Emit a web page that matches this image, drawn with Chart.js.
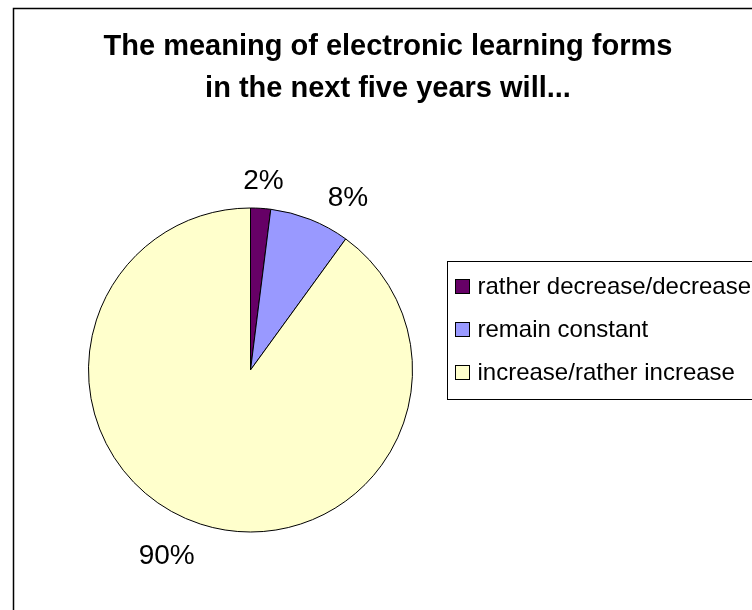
<!DOCTYPE html>
<html>
<head>
<meta charset="utf-8">
<script src="https://cdn.jsdelivr.net/npm/chart.js@4.4.1/dist/chart.umd.min.js"></script>
<style>
    html, body { margin: 0; padding: 0; background: #fff; }
    #wrap { position: relative; width: 752px; height: 610px; }
</style>
</head>
<body>
<div id="wrap"><canvas id="pie" width="752" height="610"></canvas></div>
<script>
// answers and their shares (%)
const categories = ['rather decrease/decrease', 'remain constant', 'increase/rather increase'];
const shares = [2, 8, 90];
const sliceColors = ['#660066', '#9999FF', '#FFFFCC'];
const titleLines = ['The meaning of electronic learning forms', 'in the next five years will...'];

// where each percent label sits: extra angle (deg) from the slice middle and distance from centre
const labelPlacement = [
    { shift: 0.3, dist: 191 },
    { shift: 7.7, dist: 199 },
    { shift: 6.5, dist: 202 }
];

const FONT = '"Liberation Sans", Arial, sans-serif';

// outer frame (top and left edges only, the rest runs off the canvas)
const framePlugin = {
    id: 'frame',
    beforeDraw(chart) {
        const ctx = chart.ctx;
        ctx.save();
        ctx.fillStyle = '#fff';
        ctx.fillRect(0, 0, chart.width, chart.height);
        ctx.strokeStyle = '#000';
        ctx.lineWidth = 1.5;
        ctx.beginPath();
        ctx.moveTo(13.5, chart.height);
        ctx.lineTo(13.5, 8.5);
        ctx.lineTo(chart.width, 8.5);
        ctx.stroke();
        ctx.restore();
    }
};

// title centred over the whole chart frame, which is wider than the canvas
const titlePlugin = {
    id: 'twoLineTitle',
    afterDraw(chart) {
        const ctx = chart.ctx;
        ctx.save();
        ctx.fillStyle = '#000';
        ctx.font = 'bold 29px ' + FONT;
        ctx.textAlign = 'center';
        ctx.textBaseline = 'alphabetic';
        titleLines.forEach((line, i) => ctx.fillText(line, 388, 55 + i * 42));
        ctx.restore();
    }
};

const percentPlugin = {
    id: 'percentLabels',
    afterDatasetsDraw(chart) {
        const ctx = chart.ctx;
        const meta = chart.getDatasetMeta(0);
        const total = shares.reduce((a, b) => a + b, 0);
        ctx.save();
        ctx.fillStyle = '#000';
        ctx.font = '28px ' + FONT;
        ctx.textAlign = 'center';
        ctx.textBaseline = 'middle';
        meta.data.forEach((arc, i) => {
            const p = arc.getProps(['x', 'y', 'startAngle', 'endAngle'], true);
            const a = (p.startAngle + p.endAngle) / 2 + labelPlacement[i].shift * Math.PI / 180;
            const d = labelPlacement[i].dist;
            const pct = Math.round(shares[i] / total * 100) + '%';
            ctx.fillText(pct, p.x + Math.cos(a) * d, p.y + Math.sin(a) * d + 2);
        });
        ctx.restore();
    }
};

// boxed legend at the right, clipped by the canvas edge
const legendPlugin = {
    id: 'boxLegend',
    afterDraw(chart) {
        const ctx = chart.ctx;
        const left = 447.5, top = 261.5, rowH = 43;
        ctx.save();
        ctx.strokeStyle = '#000';
        ctx.lineWidth = 1;
        ctx.strokeRect(left, top, 340, rowH * (categories.length - 1) + 52);
        ctx.font = '24px ' + FONT;
        ctx.textBaseline = 'middle';
        categories.forEach((label, i) => {
            const cy = top + 25 + i * rowH;
            ctx.fillStyle = sliceColors[i];
            ctx.fillRect(left + 8, cy - 7, 14, 14);
            ctx.strokeRect(left + 8, cy - 7, 14, 14);
            ctx.fillStyle = '#000';
            ctx.fillText(label, left + 30, cy + 1);
        });
        ctx.restore();
    }
};

new Chart(document.getElementById('pie'), {
    type: 'pie',
    data: {
        labels: categories,
        datasets: [{
            data: shares,
            backgroundColor: sliceColors,
            borderColor: '#000',
            borderWidth: 1
        }]
    },
    options: {
        responsive: false,
        animation: false,
        layout: { padding: { left: 88, right: 339, top: 207, bottom: 77 } },
        plugins: {
            legend: { display: false },
            title: { display: false },
            tooltip: { enabled: false }
        }
    },
    plugins: [framePlugin, titlePlugin, percentPlugin, legendPlugin]
});
</script>
</body>
</html>
